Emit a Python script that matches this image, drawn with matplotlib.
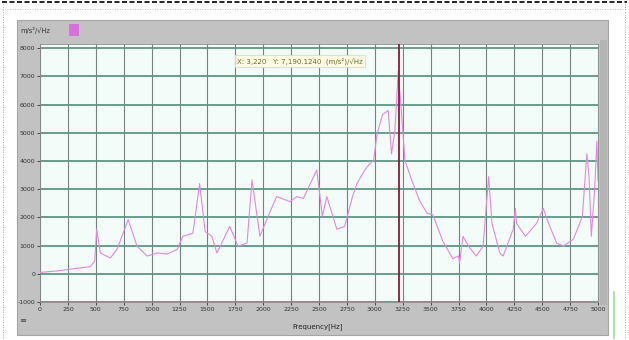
import matplotlib
matplotlib.use("Agg")
import matplotlib.pyplot as plt
from matplotlib.patches import Rectangle
from matplotlib.lines import Line2D

# spectrum (Hz, m/s^2/sqrt(Hz))
freq = [0, 150, 300, 450, 490, 508, 540, 630, 690, 790, 870, 960, 1050, 1140,
        1230, 1280, 1370, 1430, 1480, 1540, 1585, 1630, 1700, 1775, 1855, 1900,
        1970, 2040, 2120, 2240, 2300, 2360, 2480, 2530, 2570, 2660, 2730, 2800,
        2840, 2900, 2930, 2990, 3020, 3070, 3120, 3150, 3180, 3210, 3240, 3270,
        3290, 3330, 3400, 3470, 3520, 3610, 3700, 3750, 3760, 3790, 3840, 3910,
        3970, 4020, 4050, 4120, 4150, 4240, 4260, 4270, 4350, 4450, 4510, 4550,
        4630, 4690, 4780, 4860, 4900, 4920, 4940, 4970, 4990, 5000]
amp = [50, 100, 180, 250, 450, 1580, 740, 560, 870, 1920, 980, 630, 740, 700,
       870, 1330, 1440, 3200, 1500, 1330, 740, 1100, 1680, 980, 1090, 3330,
       1330, 2000, 2740, 2560, 2740, 2670, 3680, 2040, 2740, 1580, 1680, 2740,
       3200, 3610, 3790, 4030, 4950, 5650, 5790, 4250, 5090, 7190, 5650, 4030,
       3790, 3330, 2600, 2140, 2100, 1150, 530, 630, 390, 1330, 980, 630,
       980, 3440, 1790, 740, 630, 1580, 2320, 1790, 1330, 1790, 2320, 1860,
       1090, 980, 1230, 2040, 4250, 3440, 1330, 3000, 4700, 3300]

cursor_freq = 3220
cursor_label = "X: 3,220   Y: 7,190.1240  (m/s²)/√Hz"
x_ticks = list(range(0, 5001, 250))
y_ticks = list(range(-1000, 8001, 1000))

W, H = 629, 340
fig = plt.figure(figsize=(W / 100, H / 100), dpi=100)
fig.patch.set_facecolor("white")


def px(x0, y0, x1, y1):
    # pixel box (top-left origin) -> figure fraction rect
    return [x0 / W, 1 - y1 / H, (x1 - x0) / W, (y1 - y0) / H]


def rect(x0, y0, x1, y1, z=-5, **kw):
    r = px(x0, y0, x1, y1)
    fig.add_artist(Rectangle((r[0], r[1]), r[2], r[3],
                             transform=fig.transFigure, zorder=z, **kw))


# page borders of the screenshot
fig.add_artist(Line2D([2 / W, 627 / W], [1 - 2 / H] * 2, color="black",
                      lw=1.2, ls=(0, (3, 1.5))))
fig.add_artist(Line2D([2 / W, 627 / W], [1 - 9 / H] * 2, color="#b0b0b0",
                      lw=0.6, ls=(0, (1, 2))))
for xx in (3, 625):
    fig.add_artist(Line2D([xx / W] * 2, [0, 1 - 4 / H], color="#909090",
                          lw=0.6, ls=(0, (1, 2))))

# grey window panel
rect(17, 20, 608, 335, fc="#c2c2c2", ec="#a5a5a5", lw=0.8)
rect(600, 40, 607, 305, z=-4, fc="#b4b4b4", ec="none")
fig.add_artist(Line2D([614 / W] * 2, [1 - 338 / H, 1 - 292 / H],
                      color="#9ee08a", lw=1.2))
# magenta legend swatch
rect(69, 24, 79, 36, z=2, fc="#d870e0", ec="none")

ax = fig.add_axes(px(40, 44, 598, 302))
ax.set_facecolor("#f3fcf9")
ax.set_xlim(0, 5000)
ax.set_ylim(-1000, 8150)
ax.set_xticks(x_ticks)
ax.set_yticks(y_ticks)
ax.set_xticklabels([str(t) for t in x_ticks])
ax.set_yticklabels([str(t) for t in y_ticks])
ax.tick_params(labelsize=4.5, colors="#333333", length=2, width=0.6, pad=1.5)
for s in ax.spines.values():
    s.set_color("#8a8a8a")
    s.set_linewidth(0.6)

for t in x_ticks:
    ax.axvline(t, color="#75837e", lw=0.8, zorder=1)
for t in y_ticks:
    ax.axhline(t, color="#5f9686", lw=1.3, zorder=1)

ax.plot(freq, amp, color="#e388e0", lw=0.8, zorder=3)
ax.axvline(cursor_freq, color="#a0103a", lw=1.3, zorder=4)

fig.text(300 / W, 1 - 61 / H, cursor_label, fontsize=5, color="#6d6a2a",
         ha="center", va="center", zorder=5,
         bbox=dict(boxstyle="square,pad=0.3", fc="#fffbe4", ec="#e4dcaa", lw=0.6))
fig.text(20 / W, 1 - 30 / H, "m/s²/√Hz", fontsize=4.8, color="#333333",
         va="center")
fig.text(318 / W, 1 - 327 / H, "Frequency[Hz]", fontsize=5, color="#222222",
         ha="center", va="center")
fig.text(23 / W, 1 - 320 / H, "≡", fontsize=6, color="#444444",
         ha="center", va="center")

fig.savefig("out.png", dpi=100)
